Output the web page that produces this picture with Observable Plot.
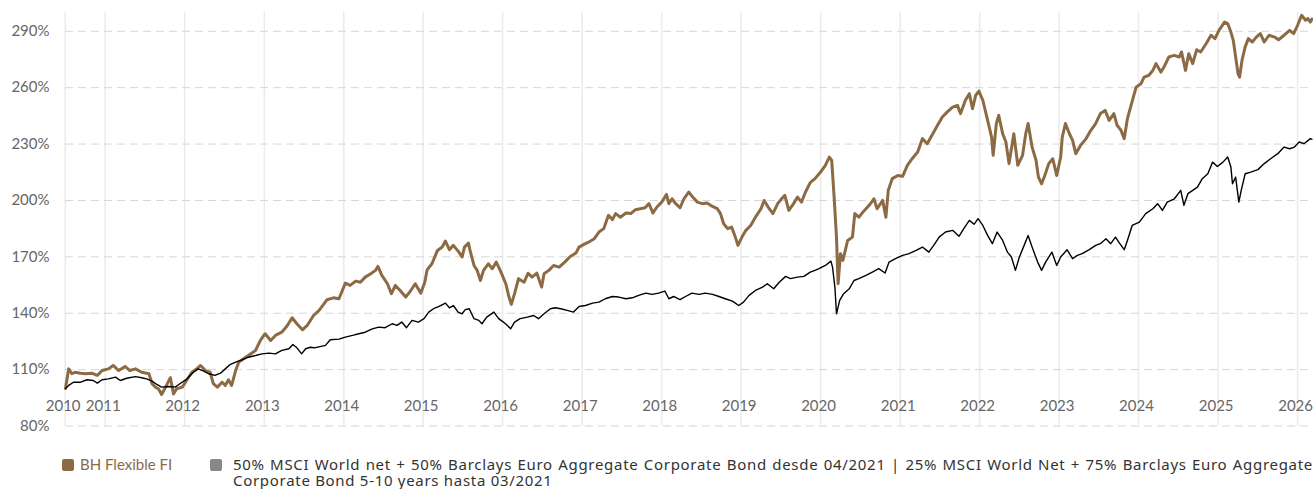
<!DOCTYPE html>
<html><head><meta charset="utf-8">
<script src="https://cdn.jsdelivr.net/npm/d3@7"></script>
<script src="https://cdn.jsdelivr.net/npm/@observablehq/plot@0.6"></script>
<style>
html,body{margin:0;padding:0;background:#fff;overflow:hidden;}
#chart{width:1313px;height:440px;}
.legend{position:relative;width:1313px;height:49px;font-family:"Noto Sans",sans-serif;font-size:15px;}
.sw{position:absolute;top:19px;width:12px;height:12px;border-radius:2px;}
.lt1{position:absolute;left:80px;top:16px;line-height:17px;color:#8b6a44;font-family:Lato,sans-serif;}
.lt2{position:absolute;left:233px;top:16px;width:1080px;line-height:16px;color:#333;text-align:justify;letter-spacing:0.7px;}
</style></head><body>
<div id="chart"></div>
<div class="legend" id="legend"></div>
<script>
const seriesNames = ["BH Flexible FI", "50% MSCI World net + 50% Barclays Euro Aggregate Corporate Bond desde 04/2021 | 25% MSCI World Net + 75% Barclays Euro Aggregate Corporate Bond 5-10 years hasta 03/2021"];
const seriesColors = ["#8b6a44", "#000000"];
const yTicks = [80,110,140,170,200,230,260,290];
const xTickDates = ["2010-07-01","2011-01-01","2012-01-01","2013-01-01","2014-01-01","2015-01-01","2016-01-01","2017-01-01","2018-01-01","2019-01-01","2020-01-01","2021-01-01","2022-01-01","2023-01-01","2024-01-01","2025-01-01","2026-01-01"];
const xTickLabels = ["2010","2011","2012","2013","2014","2015","2016","2017","2018","2019","2020","2021","2022","2023","2024","2025","2026"];

// BH Flexible FI (decimal years / % value)
const bhDates = [
2010.50,2010.54,2010.58,2010.62,2010.69,2010.75,2010.83,2010.90,2010.96,2011.04,
2011.10,2011.17,2011.25,2011.31,2011.38,2011.46,2011.55,2011.59,2011.63,2011.67,
2011.71,2011.76,2011.82,2011.86,2011.90,2011.97,2012.03,2012.09,2012.15,2012.20,
2012.26,2012.32,2012.36,2012.41,2012.47,2012.51,2012.55,2012.59,2012.64,2012.68,
2012.74,2012.80,2012.89,2012.95,2013.01,2013.08,2013.14,2013.22,2013.29,2013.35,
2013.41,2013.48,2013.54,2013.62,2013.69,2013.79,2013.87,2013.94,2014.02,2014.08,
2014.15,2014.21,2014.27,2014.34,2014.40,2014.43,2014.48,2014.55,2014.60,2014.65,
2014.71,2014.78,2014.84,2014.90,2014.97,2015.02,2015.05,2015.11,2015.18,2015.24,
2015.28,2015.33,2015.38,2015.45,2015.49,2015.52,2015.57,2015.59,2015.64,2015.68,
2015.72,2015.76,2015.82,2015.87,2015.92,2015.97,2016.04,2016.08,2016.11,2016.15,
2016.20,2016.27,2016.32,2016.37,2016.43,2016.49,2016.52,2016.58,2016.64,2016.71,
2016.78,2016.85,2016.92,2016.96,2017.02,2017.08,2017.15,2017.21,2017.27,2017.33,
2017.38,2017.42,2017.48,2017.55,2017.61,2017.67,2017.73,2017.79,2017.84,2017.89,
2017.94,2018.00,2018.06,2018.09,2018.13,2018.17,2018.23,2018.28,2018.34,2018.39,
2018.45,2018.51,2018.57,2018.64,2018.70,2018.74,2018.78,2018.83,2018.88,2018.92,
2018.96,2019.01,2019.06,2019.12,2019.18,2019.25,2019.29,2019.34,2019.40,2019.46,
2019.51,2019.55,2019.60,2019.66,2019.71,2019.76,2019.81,2019.87,2019.93,2020.00,
2020.06,2020.11,2020.14,2020.17,2020.20,2020.22,2020.25,2020.28,2020.34,2020.40,
2020.43,2020.48,2020.55,2020.61,2020.67,2020.71,2020.78,2020.82,2020.85,2020.90,
2020.97,2021.03,2021.09,2021.15,2021.22,2021.28,2021.34,2021.41,2021.47,2021.53,
2021.59,2021.66,2021.72,2021.76,2021.82,2021.87,2021.91,2021.95,2021.99,2022.04,
2022.08,2022.12,2022.15,2022.17,2022.21,2022.24,2022.29,2022.33,2022.37,2022.43,
2022.48,2022.54,2022.58,2022.61,2022.66,2022.71,2022.74,2022.78,2022.82,2022.87,
2022.92,2022.97,2023.02,2023.04,2023.08,2023.13,2023.17,2023.21,2023.27,2023.34,
2023.40,2023.46,2023.52,2023.58,2023.63,2023.69,2023.73,2023.78,2023.82,2023.86,
2023.90,2023.97,2024.03,2024.07,2024.13,2024.18,2024.22,2024.28,2024.32,2024.38,
2024.45,2024.51,2024.54,2024.59,2024.63,2024.68,2024.73,2024.78,2024.85,2024.91,
2024.96,2025.01,2025.08,2025.12,2025.16,2025.19,2025.22,2025.25,2025.27,2025.30,
2025.34,2025.38,2025.43,2025.48,2025.53,2025.58,2025.64,2025.71,2025.76,2025.83,
2025.90,2025.95,2026.00,2026.05,2026.10,2026.13,2026.16,2026.18];
const bhValues = [
100,110.4,107.8,108.6,108.1,107.8,108.1,106.9,109.5,110.4,
112.2,109.5,111.7,109.5,110.4,108.6,107.8,102.5,100.7,99.8,
96.8,100.7,105.7,97.1,99.8,100.7,104.6,108.6,110.4,112.2,
109.5,108.6,102.5,100.7,103.3,101.6,104.6,101.6,109.5,114,
115.8,117.5,120.2,125.5,129.1,125.5,128.2,129.9,133.5,137.6,
134.4,131.2,133.5,138.8,141.5,147.2,148.2,147.7,156,154.8,
157.1,156.5,159.2,161,162.8,164.9,160.1,155.7,150.4,154.8,
152.1,148.6,151.8,155.7,150.7,156.5,163.1,166.3,173.4,175.2,
178.4,173.8,176.1,172.5,169.9,175.2,177.3,173.4,165.4,162.8,
157.4,162.8,166.3,163.7,167.2,162.8,155.7,148.6,144.7,150.4,
158.4,156.5,161.3,159.2,161.3,153.9,161,162.8,165.4,164.5,
167.2,170.2,172,175.2,176.6,177.8,179.6,183.2,185,192.1,
189.8,193,191.1,193.3,193,195.1,195.6,196.1,198.3,193.3,
196.5,199.1,203.2,198.3,200.9,198.6,196.1,200.9,204.5,201.8,
199.1,198.3,198.6,196.8,195.6,193,187.6,185,185.8,181.4,
176.1,180.5,184.1,186.7,191.1,195.6,200,196.5,193,198.3,
200.9,202.7,194.7,198.3,201.8,199.1,204.5,209.5,211.6,215.1,
218.7,223.1,221.3,201.8,180.5,155.7,171.7,168.1,178.7,180.5,
193,191.1,194.7,197.4,200.9,195.6,200,191.1,205.4,211.6,
213.3,212.8,218.7,222.2,225.8,232.9,230.2,235.5,240,244.4,
247,249.7,250.6,246.2,253.3,256.8,248.8,255.9,258.2,253.3,
246.2,239.1,233.7,224,240.9,245.3,235.5,231.1,219.6,235.5,
218.7,224,235.5,240.9,228.4,221.3,212.4,208.9,213.3,219.6,
222.2,213.3,223.1,233.7,240.9,235.5,232,224.9,229.3,232.9,
237.3,240.9,246.2,247.9,242.6,246.2,240,237.3,232.9,243.5,
249.7,260.3,262.1,265.6,266.6,269.2,272.8,268.3,271,276.3,
277.2,276.3,279,269.2,278.1,272.8,280.2,279,283.5,287.9,
286.1,290.5,294.9,294.1,289.6,285.2,276.3,267.5,265.6,274.6,
281.7,286.1,284.3,286.9,288.8,284.3,287.9,286.9,285.5,287.9,
290.5,288.8,293.2,298.5,295.9,296.8,294.9,296.5];

// Benchmark (decimal years / % value)
const bmDates = [
2010.50,2010.54,2010.60,2010.69,2010.77,2010.85,2010.90,2010.96,2011.04,2011.13,
2011.19,2011.27,2011.38,2011.46,2011.52,2011.59,2011.65,2011.71,2011.80,2011.88,
2011.94,2012.03,2012.11,2012.17,2012.24,2012.30,2012.38,2012.45,2012.51,2012.57,
2012.64,2012.72,2012.80,2012.89,2012.97,2013.06,2013.14,2013.22,2013.31,2013.36,
2013.41,2013.47,2013.52,2013.58,2013.63,2013.77,2013.83,2013.94,2014.02,2014.11,
2014.19,2014.27,2014.36,2014.44,2014.52,2014.61,2014.67,2014.73,2014.79,2014.86,
2014.94,2015.01,2015.07,2015.13,2015.20,2015.28,2015.33,2015.38,2015.44,2015.49,
2015.53,2015.58,2015.64,2015.70,2015.74,2015.80,2015.89,2015.95,2016.01,2016.06,
2016.10,2016.15,2016.22,2016.31,2016.39,2016.45,2016.52,2016.60,2016.66,2016.73,
2016.81,2016.89,2016.96,2017.04,2017.13,2017.21,2017.29,2017.38,2017.46,2017.55,
2017.63,2017.71,2017.80,2017.88,2017.96,2018.04,2018.09,2018.15,2018.23,2018.30,
2018.38,2018.47,2018.55,2018.64,2018.72,2018.80,2018.89,2018.97,2019.03,2019.10,
2019.18,2019.27,2019.33,2019.41,2019.48,2019.56,2019.62,2019.71,2019.79,2019.87,
2019.93,2019.98,2020.06,2020.13,2020.15,2020.18,2020.20,2020.24,2020.29,2020.36,
2020.42,2020.48,2020.57,2020.65,2020.73,2020.81,2020.86,2020.94,2021.03,2021.11,
2021.20,2021.28,2021.36,2021.43,2021.49,2021.57,2021.66,2021.74,2021.80,2021.87,
2021.93,2021.98,2022.04,2022.10,2022.16,2022.22,2022.29,2022.35,2022.40,2022.45,
2022.50,2022.56,2022.61,2022.66,2022.73,2022.78,2022.83,2022.91,2022.97,2023.02,
2023.10,2023.17,2023.23,2023.29,2023.38,2023.46,2023.52,2023.59,2023.65,2023.71,
2023.76,2023.82,2023.86,2023.92,2024.01,2024.09,2024.18,2024.24,2024.30,2024.36,
2024.45,2024.53,2024.57,2024.62,2024.68,2024.74,2024.80,2024.87,2024.93,2024.99,
2025.06,2025.12,2025.16,2025.18,2025.22,2025.26,2025.29,2025.34,2025.41,2025.50,
2025.58,2025.66,2025.75,2025.83,2025.90,2025.96,2026.02,2026.08,2026.16,2026.18];
const bmValues = [
100,101.6,103.3,103.3,104.6,104.2,102.8,104.6,105.1,106,
104.2,105.4,106.3,105.7,105.1,103.9,102.1,100.7,101,100.7,
102.5,105.1,108.6,110.4,109.2,107.8,106.9,108.1,110.4,112.7,
114,115.2,116.6,117.5,118.4,118.8,118.4,120.2,121.1,123.4,
121.6,118.4,121.1,121.9,121.6,122.9,125.9,126.2,127.3,128.2,
129.1,129.9,131.7,132.6,132.3,134.4,133.5,135.3,132.3,136.2,
135.3,137.1,140.6,142.4,143.6,145.4,142.9,144.1,140.6,139.7,
141.9,142.4,137.1,136.2,134.4,137.9,140.6,137.1,135.3,133.5,
131.7,135.3,137.1,137.9,138.8,137.1,139.7,142.4,142.9,142.4,
141.5,140.6,143.6,144.1,145.4,145.9,147.7,148.9,148.6,147.7,
148.2,149.5,150.7,150,150.7,151.8,147.7,148.9,147.2,148.9,
150.7,150,150.7,150,148.9,147.7,146.4,144.1,145.9,149.5,
152.1,153.9,155.7,153,156.5,159.6,158.4,159.2,159.6,161.9,
162.8,163.7,165.4,167.7,164.5,153.9,139.7,146.8,150.4,153,
157.4,158.4,160.1,161.9,163.7,161.4,167.2,169,170.8,171.7,
173.4,175.2,172.5,176.6,180.5,183.2,184.1,180.9,185,189.4,
187.3,190.3,186.7,181.4,177,183.2,178.7,172.5,169.9,162.8,
169.9,176.1,181.4,175.2,167.2,162.8,167.2,172.5,165.4,169.9,
173.8,169,170.8,171.7,173.8,176.1,177,179.6,177,180.5,
177.3,173.8,178.7,186.7,188.5,193,195.6,198.3,194.7,199.1,
200.9,205.4,197.4,203.6,205.4,207.1,211.6,214.2,220.4,218.1,
220.4,223.1,217.8,208.9,212.4,199.1,205.4,214.2,215.1,216.4,
219.6,222.2,224.9,228.4,227.5,228.4,231.1,230.2,232.9,232.5];

function toDate(t){
  const y = Math.floor(t);
  const s = Date.UTC(y,0,1), e = Date.UTC(y+1,0,1);
  return new Date(s + (t - y) * (e - s));
}
const bh = bhDates.map((t,i)=>({date:toDate(t), value:bhValues[i]}));
const bm = bmDates.map((t,i)=>({date:toDate(t), value:bmValues[i]}));
const xticks = xTickDates.map((d,i)=>({date:new Date(d+"T00:00:00Z"), label:xTickLabels[i]}));

const chart = Plot.plot({
  width: 1313, height: 440,
  marginLeft: 65, marginRight: 0, marginTop: 12, marginBottom: 14.5,
  style: {fontFamily: "Lato, sans-serif", fontSize: "15px", color: "#666", background: "#fff"},
  x: {type: "utc", domain: [toDate(2010.5), toDate(2026.2)], axis: null},
  y: {domain: [80, 300]},
  marks: [
    Plot.gridX(xticks.map(d=>d.date), {stroke: "#ebebeb", strokeOpacity: 1, strokeWidth: 1.5}),
    Plot.gridY(yTicks, {stroke: "#d6d6d6", strokeOpacity: 1, strokeDasharray: "8,5"}),
    Plot.axisY(yTicks, {tickSize: 0, tickPadding: 16, tickFormat: d => d + "%", fill: "#666", fontSize: 15, label: null}),
    Plot.text(xticks, {x: "date", text: "label", frameAnchor: "bottom", dy: -15.5, dx: -2, fill: "#666", fontSize: 15}),
    Plot.line(bh, {x: "date", y: "value", stroke: seriesColors[0], strokeWidth: 3}),
    Plot.line(bm, {x: "date", y: "value", stroke: seriesColors[1], strokeWidth: 1.4})
  ]
});
document.getElementById("chart").appendChild(chart);

const lg = document.getElementById("legend");
lg.innerHTML =
  '<div class="sw" style="left:62px;background:' + seriesColors[0] + '"></div>' +
  '<div class="lt1"></div>' +
  '<div class="sw" style="left:210px;background:#888"></div>' +
  '<div class="lt2"></div>';
lg.querySelector(".lt1").textContent = seriesNames[0];
lg.querySelector(".lt2").textContent = seriesNames[1];
</script>
</body></html>
